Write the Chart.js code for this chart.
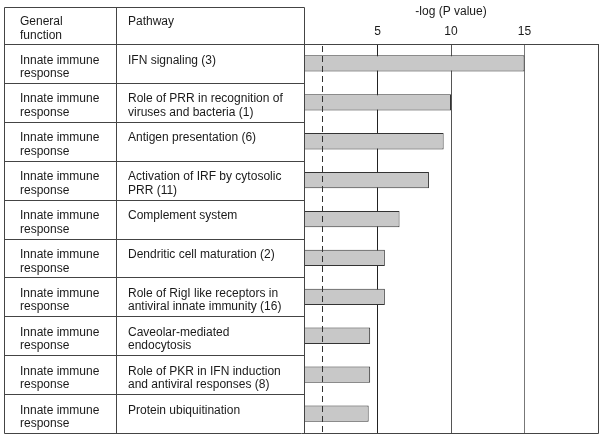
<!DOCTYPE html>
<html>
<head>
<meta charset="utf-8">
<script src="https://cdn.jsdelivr.net/npm/chart.js@4/dist/chart.umd.min.js"></script>
<style>
body { margin: 0; background: #fff; }
</style>
</head>
<body>
<canvas id="grafRutas" width="603" height="438"></canvas>
<script>
// datos de la tabla
const encabezadoFuncion = ['General', 'function'];
const encabezadoRuta = ['Pathway'];
const funciones = [
    ['Innate immune', 'response'], ['Innate immune', 'response'], ['Innate immune', 'response'],
    ['Innate immune', 'response'], ['Innate immune', 'response'], ['Innate immune', 'response'],
    ['Innate immune', 'response'], ['Innate immune', 'response'], ['Innate immune', 'response'],
    ['Innate immune', 'response']
];
const rutas = [
    ['IFN signaling (3)'],
    ['Role of PRR in recognition of', 'viruses and bacteria (1)'],
    ['Antigen presentation (6)'],
    ['Activation of IRF by cytosolic', 'PRR (11)'],
    ['Complement system'],
    ['Dendritic cell maturation (2)'],
    ['Role of RigI like receptors in', 'antiviral innate immunity (16)'],
    ['Caveolar-mediated', 'endocytosis'],
    ['Role of PKR in IFN induction', 'and antiviral responses (8)'],
    ['Protein ubiquitination']
];
// -log (P value)
const valores = [15.0, 10.0, 9.5, 8.5, 6.5, 5.5, 5.5, 4.5, 4.5, 4.4];
const ticksX = [5, 10, 15];
const umbral = 1.2;

const FUENTE = '"Liberation Sans", Arial, sans-serif';
Chart.defaults.font.family = FUENTE;

const px = v => Math.round(v) + 0.5;

// dibuja la tabla de la izquierda y el marco del grafico
const tabla = {
    id: 'tabla',
    afterDatasetsDraw(chart) {
        const c = chart.ctx;
        const area = chart.chartArea;
        const ys = chart.scales.y;
        const xs = chart.scales.x;
        const mitad = (ys.getPixelForValue(1) - ys.getPixelForValue(0)) / 2;
        const izq = 4, col = 116, der = area.left, arriba = 7;

        c.save();
        // linea de umbral
        c.strokeStyle = '#333';
        c.lineWidth = 1;
        c.setLineDash([6, 4]);
        c.beginPath();
        c.moveTo(px(xs.getPixelForValue(umbral)), area.top + 2);
        c.lineTo(px(xs.getPixelForValue(umbral)), area.bottom);
        c.stroke();
        c.setLineDash([]);

        c.strokeStyle = '#444';
        c.beginPath();
        // marco del grafico (derecha y abajo)
        c.moveTo(px(area.right), px(area.top));
        c.lineTo(px(area.right), px(area.bottom));
        c.lineTo(px(izq), px(area.bottom));
        // verticales de la tabla
        [izq, col, der].forEach(x => {
            c.moveTo(px(x), px(arriba));
            c.lineTo(px(x), px(area.bottom));
        });
        c.moveTo(px(izq), px(arriba));
        c.lineTo(px(der), px(arriba));
        for (let i = 0; i < rutas.length; i++) {
            const y = ys.getPixelForValue(i) - mitad;
            c.moveTo(px(izq), px(y));
            c.lineTo(px(der), px(y));
        }
        c.stroke();

        // textos
        c.fillStyle = '#1a1a1a';
        c.font = '12px ' + FUENTE;
        c.textBaseline = 'alphabetic';
        c.textAlign = 'left';
        const celda = (lineas, x, y0) => lineas.forEach((t, k) => c.fillText(t, x, y0 + k * 13.5));
        celda(encabezadoFuncion, 20, arriba + 18);
        celda(encabezadoRuta, 128, arriba + 18);
        for (let i = 0; i < rutas.length; i++) {
            const y = ys.getPixelForValue(i) - mitad;
            celda(funciones[i], 20, y + 19.5);
            celda(rutas[i], 128, y + 19.5);
        }
        c.restore();
    }
};

const ctx = document.getElementById('grafRutas').getContext('2d');
const grafRutas = new Chart(ctx, {
    type: 'bar',
    data: {
        labels: rutas.map(r => r.join(' ')),
        datasets: [{
            data: valores,
            backgroundColor: '#c8c8c8',
            borderColor: '#333',
            borderWidth: 1,
            barPercentage: 0.42,
            categoryPercentage: 1
        }]
    },
    options: {
        indexAxis: 'y',
        responsive: false,
        animation: false,
        layout: { padding: { left: 304, right: 5, top: 0, bottom: 5 } },
        plugins: { legend: { display: false }, tooltip: { enabled: false } },
        scales: {
            x: {
                position: 'top',
                min: 0,
                max: 20,
                afterBuildTicks: s => { s.ticks = ticksX.map(v => ({ value: v })); },
                afterFit: s => { s.height = 44; },
                ticks: { color: '#1a1a1a', font: { size: 12 }, padding: 5, maxRotation: 0 },
                grid: {
                    drawTicks: false,
                    lineWidth: 1,
                    color: c => c.tick && c.tick.value === 5 ? '#222' : (c.tick && c.tick.value === 10 ? '#555' : '#777')
                },
                border: { display: true, color: '#444' },
                title: {
                    display: true,
                    text: '-log (P value)',
                    color: '#1a1a1a',
                    font: { size: 12 },
                    padding: { top: 4, bottom: 0 }
                }
            },
            y: { display: false }
        }
    },
    plugins: [tabla]
});
</script>
</body>
</html>
